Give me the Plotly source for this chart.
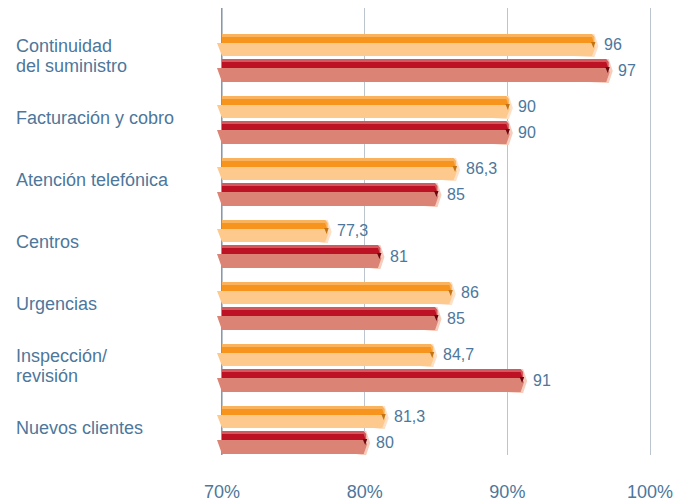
import plotly.graph_objects as go

# Survey categories (top to bottom) and satisfaction scores (%)
categories = [
    ["Continuidad", "del suministro"],
    ["Facturación y cobro"],
    ["Atención telefónica"],
    ["Centros"],
    ["Urgencias"],
    ["Inspección/", "revisión"],
    ["Nuevos clientes"],
]
orange_values = [96, 90, 86.3, 77.3, 86, 84.7, 81.3]
red_values = [97, 90, 85, 81, 85, 91, 80]
tick_values = [70, 80, 90, 100]
tick_labels = ["70%", "80%", "90%", "100%"]

W, H = 693, 504
BASE = 70
X_LO, X_HI = 54.44, 103.01          # x range spanning the full width
PXX = W / (X_HI - X_LO)              # pixels per percentage point
PXY = 62.0                           # pixels per category row
Y_TOP, Y_BOT = -0.8065, 6.403
MT, MB = 8, 49

TEXT = "#4d779b"
FONT = "Liberation Sans"


def px(dx):
    return dx / PXX


def py(dy):
    return dy / PXY


def ribbon_layers(values, top, front_top, front_bot, band=None):
    """Build polygon lists for one 3D ribbon series.
    Offsets are in pixels relative to each row centre."""
    layers = {k: ([], []) for k in ["cap", "edge", "core", "band", "front", "tri"]}

    def add(name, pts, k):
        xs, ys = layers[name]
        for dx, dy, base in pts:
            xs.append(base + px(dx))
            ys.append(k + py(dy))
        xs.append(None)
        ys.append(None)

    for k, v in enumerate(values):
        t = top
        # light outline around the folded end
        add("cap", [(0, t, BASE), (-3, t, v), (1.5, t, v), (5.5, t + 12, v),
                    (1.5, front_bot + 1, v), (-3, front_bot + 1, v)], k)
        # upper strip: light edge then saturated core
        add("edge", [(0, t, BASE), (-1, t, v), (1.5, t + 3, v), (1.5, front_top, v),
                     (0, front_top, BASE)], k)
        add("core", [(0, t + 3, BASE), (-1, t + 3, v), (1, front_top, v),
                     (0, front_top, BASE)], k)
        if band is not None:
            add("band", [(0, band[0], BASE), (0, band[0], v), (1, band[1], v),
                         (0, band[1], BASE)], k)
        # front face with slanted left edge and pointed right end
        add("front", [(-5, front_top, BASE), (-1, front_top, v), (2.5, front_top + 4, v),
                      (-1, front_bot, v), (0, front_bot, BASE)], k)
        # dark fold triangle at the end of the strip
        add("tri", [(-2, front_top - 1, v), (2.5, front_top - 1, v), (0.5, front_top + 5, v)], k)
    return layers


orange = ribbon_layers(orange_values, -24, -15, -2)
red = ribbon_layers(red_values, 1, 10, 24, band=(10, 12))

orange_colors = {"cap": "#fde0c6", "edge": "#fab35c", "core": "#f7941d",
                 "front": "#fec98d", "tri": "#c27512"}
red_colors = {"cap": "#f6cdbd", "edge": "#d25a5e", "core": "#bd1224",
              "band": "#cc4e50", "front": "#db8374", "tri": "#6a0710"}

fig = go.Figure()
for layers, colors in [(orange, orange_colors), (red, red_colors)]:
    for name in ["cap", "edge", "core", "band", "front", "tri"]:
        if name not in colors:
            continue
        xs, ys = layers[name]
        fig.add_trace(go.Scatter(
            x=xs, y=ys, mode="lines", fill="toself",
            fillcolor=colors[name], line=dict(width=0, color=colors[name]),
            hoverinfo="skip", showlegend=False,
        ))


def fmt(v):
    return (f"{v:.1f}".rstrip("0").rstrip(".")).replace(".", ",")


annotations = []
for k, v in enumerate(orange_values):
    annotations.append(dict(x=v, y=k, xref="x", yref="y", text=fmt(v), showarrow=False,
                            xanchor="left", yanchor="middle", xshift=9, yshift=13.5,
                            font=dict(family=FONT, size=16, color=TEXT)))
for k, v in enumerate(red_values):
    annotations.append(dict(x=v, y=k, xref="x", yref="y", text=fmt(v), showarrow=False,
                            xanchor="left", yanchor="middle", xshift=9, yshift=-12,
                            font=dict(family=FONT, size=16, color=TEXT)))

for k, lines in enumerate(categories):
    if len(lines) == 1:
        shifts = [2]
    else:
        shifts = [12, -8]
    for line, s in zip(lines, shifts):
        annotations.append(dict(x=14 / W, y=k, xref="paper", yref="y", text=line,
                                showarrow=False, xanchor="left", yanchor="middle",
                                yshift=s, font=dict(family=FONT, size=18, color=TEXT)))

fig.add_shape(type="line", x0=BASE, x1=BASE, y0=0, y1=1, xref="x", yref="paper",
              line=dict(color="#24587a", width=1.2), layer="below")

fig.update_layout(
    width=W, height=H,
    margin=dict(l=0, r=0, t=MT, b=MB),
    paper_bgcolor="white", plot_bgcolor="white",
    showlegend=False,
    annotations=annotations,
    xaxis=dict(range=[X_LO, X_HI], tickvals=tick_values, ticktext=tick_labels,
               showgrid=True, gridcolor="#bcc5ce", gridwidth=1, zeroline=False,
               showline=False, ticks="", ticklabelstandoff=24,
               tickfont=dict(family=FONT, size=18, color=TEXT), fixedrange=True),
    yaxis=dict(range=[Y_BOT, Y_TOP], showgrid=False, zeroline=False,
               showticklabels=False, showline=False, fixedrange=True),
)

fig.write_html("out.html")
